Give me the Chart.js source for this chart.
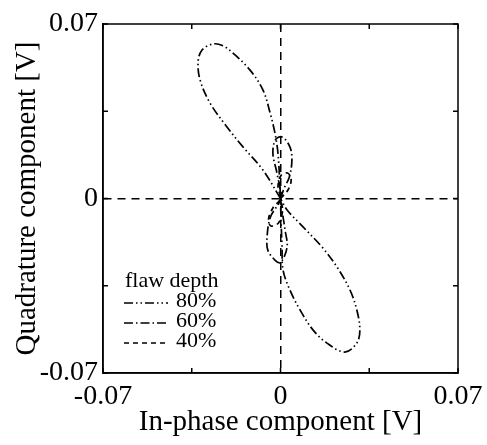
<!DOCTYPE html>
<html>
<head>
<meta charset="utf-8">
<title>Flaw depth - impedance plane</title>
<script src="https://cdn.jsdelivr.net/npm/chart.js@4.4.0/dist/chart.umd.min.js"></script>
<style>
  html, body { margin: 0; padding: 0; background: #fff; }
  #wrap { width: 487px; height: 445px; }
</style>
</head>
<body>
<div id="wrap"><canvas id="lissajous" width="487" height="445"></canvas></div>
<script>
"use strict";

// Signal traces (volts), in drawing order
const depth80X = [0, -0.0069, -0.0148, -0.0211, -0.0278, -0.0317, -0.0325, -0.031, -0.0266, -0.0225, -0.0187, -0.012, -0.0069, -0.0041, -0.0022, -0.001, -0.0002,
  0, 0.0002, 0.0006, 0.001, 0.0037, 0.0077, 0.0128, 0.0183, 0.0254, 0.0301, 0.0313, 0.0301, 0.0274, 0.0223, 0.0164, 0.0089, 0.0026, 0];
const depth80Y = [0, 0.0114, 0.0207, 0.0287, 0.0383, 0.0475, 0.0547, 0.0595, 0.062, 0.0612, 0.0583, 0.0515, 0.0435, 0.0343, 0.0263, 0.0182, 0.0046,
  0, -0.0086, -0.0187, -0.0287, -0.0367, -0.0447, -0.0527, -0.058, -0.0616, -0.058, -0.0527, -0.0447, -0.0367, -0.0275, -0.0195, -0.0114, -0.0046, 0];

const depth60X = [0, 0.0016, 0.0035, 0.0045, 0.0037, 0.0006, -0.002, -0.003, -0.0014, 0, -0.004, -0.0053, -0.005, -0.0022, 0, 0.0026, 0.0018, 0.0006, 0];
const depth60Y = [0, 0.0045, 0.0086, 0.0154, 0.0207, 0.0247, 0.0235, 0.018, 0.0102, 0, -0.0075, -0.0154, -0.0207, -0.0247, -0.0257, -0.0195, -0.0127, -0.0046, 0];

const depth40X = [0, 0.003, 0.0042, 0.0028, 0.0002, -0.001, 0, -0.003, -0.0047, -0.0038, -0.0008, 0.0008, 0];
const depth40Y = [0, 0.0035, 0.0075, 0.0102, 0.0092, 0.0045, 0, -0.0038, -0.0082, -0.011, -0.0098, -0.005, 0];

const seriesLabels = ["80%", "60%", "40%"];
const legendTitle = "flaw depth";

const axisMin = -0.07;
const axisMax = 0.07;
const tickStep = 0.035;
const labeledTicks = [-0.07, 0, 0.07];

const serif = "'Liberation Serif', 'DejaVu Serif', serif";

function toPoints(xs, ys) {
  return xs.map(function (x, i) {
    return { x: x, y: ys[i] };
  });
}

function tickLabel(value) {
  for (let i = 0; i < labeledTicks.length; i++) {
    if (Math.abs(value - labeledTicks[i]) < 1e-9) {
      return labeledTicks[i] === 0 ? "0" : labeledTicks[i].toFixed(2);
    }
  }
  return "";
}

// only the zero line is drawn across the plot (dashed)
function zeroLine(ctx) {
  return ctx.tick && Math.abs(ctx.tick.value) < 1e-9 ? "#000" : "rgba(0,0,0,0)";
}

// box around the plot, inward tick marks and the legend
const framePlugin = {
  id: "frame",
  afterDraw: function (chart) {
    const ctx = chart.ctx;
    const area = chart.chartArea;
    const sx = chart.scales.x;
    const sy = chart.scales.y;
    const tick = 5;

    ctx.save();
    ctx.strokeStyle = "#000";
    ctx.lineWidth = 1.5;
    ctx.setLineDash([]);
    ctx.strokeRect(area.left, area.top, area.right - area.left, area.bottom - area.top);

    ctx.beginPath();
    sx.ticks.forEach(function (t) {
      const px = sx.getPixelForValue(t.value);
      ctx.moveTo(px, area.top);
      ctx.lineTo(px, area.top + tick);
      ctx.moveTo(px, area.bottom);
      ctx.lineTo(px, area.bottom - tick);
    });
    sy.ticks.forEach(function (t) {
      const py = sy.getPixelForValue(t.value);
      ctx.moveTo(area.left, py);
      ctx.lineTo(area.left + tick, py);
      ctx.moveTo(area.right, py);
      ctx.lineTo(area.right - tick, py);
    });
    ctx.stroke();

    // legend
    const lx = area.left + 21;
    const ly = area.top + 257;
    ctx.fillStyle = "#000";
    ctx.textBaseline = "middle";
    ctx.font = "22px " + serif;
    ctx.fillText(legendTitle, lx + 1, ly);
    chart.data.datasets.forEach(function (ds, i) {
      const y = ly + 22 + i * 20;
      ctx.beginPath();
      ctx.lineWidth = ds.borderWidth;
      ctx.setLineDash(ds.borderDash);
      ctx.moveTo(lx, y);
      ctx.lineTo(lx + 44, y);
      ctx.stroke();
      ctx.setLineDash([]);
      ctx.fillText(ds.label, lx + 52, y - 2);
    });
    ctx.restore();
  }
};

const dashStyles = [
  [9, 3, 1.5, 3, 1.5, 3],
  [9, 3, 1.5, 3],
  [5, 4]
];
const traces = [
  toPoints(depth80X, depth80Y),
  toPoints(depth60X, depth60Y),
  toPoints(depth40X, depth40Y)
];

const datasets = traces.map(function (pts, i) {
  return {
    label: seriesLabels[i],
    data: pts,
    showLine: true,
    fill: false,
    borderColor: "#000",
    borderWidth: 1.7,
    borderDash: dashStyles[i],
    pointRadius: 0,
    tension: 0.35
  };
});

function axisOptions(titleText, isX) {
  return {
    type: "linear",
    min: axisMin,
    max: axisMax,
    afterFit: function (scale) {
      if (isX) {
        scale.height = 72;
      } else {
        scale.width = 103;
      }
      // end labels may hang over the plot edges; don't shrink the plot for them
      scale.paddingLeft = 0;
      scale.paddingRight = 0;
      scale.paddingTop = 0;
      scale.paddingBottom = 0;
    },
    ticks: {
      stepSize: tickStep,
      autoSkip: false,
      maxRotation: 0,
      padding: isX ? 7 : 5,
      color: "#000",
      font: { family: serif, size: 28 },
      callback: tickLabel
    },
    grid: {
      color: zeroLine,
      lineWidth: 1.5,
      drawTicks: false
    },
    border: {
      display: true,
      color: "#000",
      width: 1.5,
      dash: [8, 6]
    },
    title: {
      display: true,
      text: titleText,
      color: "#000",
      font: { family: serif, size: 29 },
      padding: isX ? { top: 0, bottom: 5 } : { top: 10, bottom: 0 }
    }
  };
}

new Chart(document.getElementById("lissajous"), {
  type: "scatter",
  data: { datasets: datasets },
  options: {
    responsive: false,
    animation: false,
    layout: { padding: { top: 24, right: 29, bottom: 0, left: 0 } },
    plugins: {
      legend: { display: false },
      tooltip: { enabled: false }
    },
    scales: {
      x: axisOptions("In-phase component [V]", true),
      y: axisOptions("Quadrature component [V]", false)
    }
  },
  plugins: [framePlugin]
});
</script>
</body>
</html>
